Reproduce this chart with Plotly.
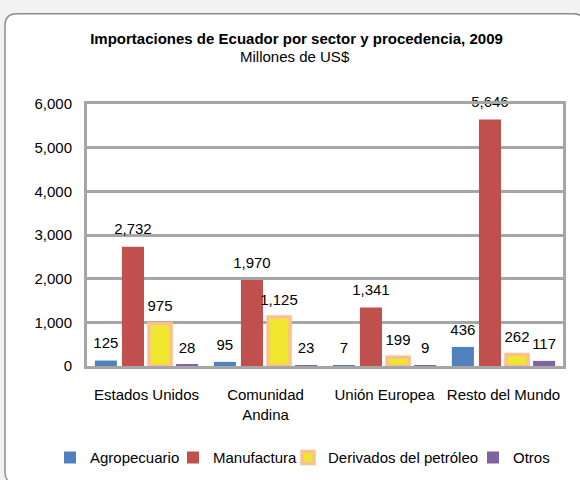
import plotly.graph_objects as go

# ---- data ----
categories = ["Estados Unidos", "Comunidad<br>Andina", "Unión Europea", "Resto del Mundo"]
series_names = ["Agropecuario", "Manufactura", "Derivados del petróleo", "Otros"]
agropecuario = [125, 95, 7, 436]
manufactura = [2732, 1970, 1341, 5646]
derivados = [975, 1125, 199, 262]
otros = [28, 23, 9, 117]
y_tick_values = [0, 1000, 2000, 3000, 4000, 5000, 6000]

# ---- styles ----
W, H = 580, 480
L, R, T, B = 87, 563, 103.5, 366  # plot area in px
FONT = "Liberation Sans, Arial, sans-serif"
colors = ["#4f81bd", "#c0504d", "#f0e62e", "#8064a2"]
line_colors = ["#4f81bd", "#c0504d", "#fac08f", "#8064a2"]
line_widths = [0, 0, 3.5, 0]
legend_widths = [78, 70, 140, 40]
GRID = "#a6a6a6"

series_values = [agropecuario, manufactura, derivados, otros]

fig = go.Figure()
for name, vals, c, lc, lw, lgw in zip(series_names, series_values, colors,
                                      line_colors, line_widths, legend_widths):
    fig.add_trace(go.Bar(
        x=categories, y=vals, name=name, legendwidth=lgw,
        marker=dict(color=c, line=dict(color=lc, width=lw)),
        hoverinfo="skip",
    ))
for name, vals in zip(series_names, series_values):
    fig.add_trace(go.Scatter(
        x=categories, y=vals, mode="markers+text", orientation="v",
        text=[f"{v:,}" for v in vals], textposition="top center",
        textfont=dict(family=FONT, size=15, color="#000000"),
        marker=dict(size=12, color="rgba(0,0,0,0)"),
        showlegend=False, hoverinfo="skip", cliponaxis=False,
    ))

# rounded outer box (pixel -> paper coordinates)
def px(xp):
    return (xp - L) / (R - L)

def py(yp):
    return (B - yp) / (B - T)

bx0, by0, bx1, by1, rad = 5, 13, 585, 484, 12
path = (
    f"M {px(bx0 + rad)} {py(by0)} L {px(bx1 - rad)} {py(by0)} "
    f"Q {px(bx1)} {py(by0)} {px(bx1)} {py(by0 + rad)} "
    f"L {px(bx1)} {py(by1 - rad)} Q {px(bx1)} {py(by1)} {px(bx1 - rad)} {py(by1)} "
    f"L {px(bx0 + rad)} {py(by1)} Q {px(bx0)} {py(by1)} {px(bx0)} {py(by1 - rad)} "
    f"L {px(bx0)} {py(by0 + rad)} Q {px(bx0)} {py(by0)} {px(bx0 + rad)} {py(by0)} Z"
)

fig.update_layout(
    width=W, height=H,
    margin=dict(l=L, r=W - R, t=T, b=H - B, pad=0, autoexpand=False),
    paper_bgcolor="#f2f2f2", plot_bgcolor="rgba(0,0,0,0)",
    font=dict(family=FONT, size=15, color="#000000"),
    barmode="group", bargap=0.09, bargroupgap=0.185,
    scattermode="group", scattergap=0.09,
    title=dict(
        text="<b>Importaciones de Ecuador por sector y procedencia, 2009</b>",
        font=dict(family=FONT, size=15, color="#000000"),
        x=296.5 / W, xref="container", xanchor="center",
        y=1 - 39 / H, yref="container", yanchor="middle",
    ),
    annotations=[dict(
        text="Millones de US$", xref="paper", yref="paper",
        x=px(295), y=py(56), xanchor="center", yanchor="middle",
        showarrow=False, font=dict(family=FONT, size=15, color="#000000"),
    )],
    shapes=[dict(
        type="path", path=path, xref="paper", yref="paper", layer="below",
        fillcolor="#ffffff", line=dict(color="#8c8c8c", width=1.5),
    )],
    legend=dict(
        orientation="h", xref="paper", yref="paper",
        x=px(50), xanchor="left", y=py(458), yanchor="middle",
        font=dict(family=FONT, size=15, color="#000000"),
        bgcolor="rgba(0,0,0,0)", itemclick=False, itemdoubleclick=False,
    ),
    xaxis=dict(
        showline=True, mirror=True, linecolor=GRID, linewidth=3,
        ticks="", showgrid=False, ticklabelstandoff=13,
        tickfont=dict(family=FONT, size=15), fixedrange=True,
    ),
    yaxis=dict(
        range=[0, 6000], tickvals=y_tick_values, tickformat=",",
        showline=True, mirror=True, linecolor=GRID, linewidth=3,
        showgrid=True, gridcolor=GRID, gridwidth=2.5, zeroline=False,
        ticks="", ticklabelstandoff=9,
        tickfont=dict(family=FONT, size=15), fixedrange=True,
    ),
)

fig.write_html(
    "out.html",
    config={"displayModeBar": False},
    post_script="document.body.style.margin='0';document.body.style.padding='0';"
                "document.body.style.overflow='hidden';",
)
